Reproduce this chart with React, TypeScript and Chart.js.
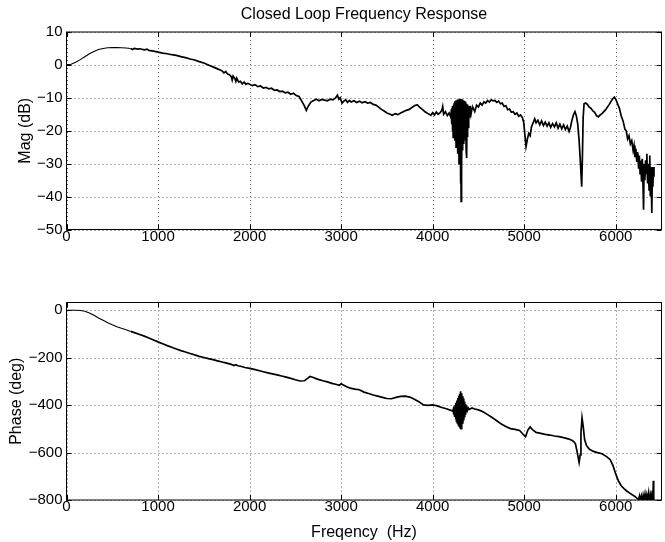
import React, { useEffect, useRef } from 'react';
import { Chart, registerables } from 'chart.js';

Chart.register(...registerables);

// ---------------- data ----------------
const magFreq = [
  0, 50, 100, 150, 200, 250, 300, 350, 400, 450, 500, 550, 600, 650, 700, 720, 740, 780, 800, 850, 880, 900, 950,
  1000, 1050, 1100, 1150, 1200, 1250, 1300, 1350, 1400, 1450, 1500, 1550, 1600, 1650, 1700, 1720, 1740, 1760, 1780,
  1800, 1810, 1820, 1840, 1850, 1860, 1880, 1900, 1920, 1940, 1960, 1980, 2000, 2030, 2060, 2090, 2120, 2150, 2180,
  2210, 2240, 2270, 2300, 2330, 2360, 2390, 2420, 2450, 2480, 2510, 2540, 2570, 2600, 2620, 2640, 2670, 2700, 2730,
  2760, 2790, 2820, 2850, 2880, 2910, 2940, 2960, 2975, 2990, 3010, 3030, 3050, 3070, 3090, 3110, 3140, 3170, 3200,
  3230, 3260, 3290, 3320, 3350, 3380, 3410, 3440, 3470, 3500, 3530, 3560, 3590, 3620, 3650, 3680, 3710, 3740, 3770,
  3800, 3830, 3860, 3890, 3920, 3950, 3980, 4000, 4020, 4040, 4060, 4080, 4100, 4110, 4120, 4140, 4160, 4180,
  4200, 4204, 4208, 4212, 4216, 4220, 4224, 4228, 4232, 4236, 4240, 4244, 4248, 4252, 4256, 4260, 4264, 4268,
  4272, 4276, 4280, 4284, 4288, 4292, 4296, 4300, 4304, 4308, 4311, 4314, 4318, 4322, 4326, 4330, 4334, 4338,
  4342, 4346, 4350, 4354, 4358, 4362, 4366, 4370, 4373, 4376, 4380, 4384, 4388, 4392, 4396, 4400, 4404, 4408,
  4412, 4416, 4420, 4430, 4440, 4460, 4480, 4500, 4520, 4540, 4560, 4580, 4600, 4620, 4640, 4660,
  4680, 4700, 4720, 4740, 4760, 4780, 4800, 4820, 4840, 4860, 4880, 4900, 4920, 4940, 4960, 4980, 4995, 5010, 5020,
  5035, 5050, 5065, 5080, 5100, 5115, 5130, 5150, 5170, 5190, 5210, 5230, 5250, 5270, 5290, 5310, 5330, 5350, 5370,
  5390, 5410, 5430, 5450, 5470, 5490, 5505, 5520, 5540, 5555, 5570, 5585, 5600, 5615, 5628, 5636, 5644, 5654, 5670,
  5690, 5710, 5730, 5750, 5770, 5790, 5810, 5830, 5850, 5870, 5890, 5910, 5930, 5950, 5970, 5985, 6000, 6020, 6040,
  6060, 6080, 6100, 6115, 6130, 6145, 6160, 6175, 6190, 6200, 6210, 6220, 6230, 6240, 6250, 6258, 6266, 6274, 6282,
  6290, 6298, 6304, 6310, 6318, 6326, 6334, 6340, 6348, 6356, 6364, 6372, 6378, 6386, 6394, 6400, 6406, 6412, 6418,
];
const magDb = [
  0, 0.2, 0.8, 1.6, 2.5, 3.4, 4.1, 4.7, 5.0, 5.2, 5.25, 5.25, 5.2, 5.15, 5.0, 4.7, 5.0, 4.8, 4.9, 4.6, 4.8, 4.4, 4.2,
  3.9, 3.6, 3.4, 3.1, 2.9, 2.5, 2.2, 1.8, 1.5, 1.0, 0.6, 0.0, -0.6, -1.2, -1.8, -2.4, -2.0, -2.8, -3.0,
  -3.6, -4.6, -3.4, -4.2, -5.0, -4.0, -5.2, -5.0, -5.8, -5.2, -5.9, -5.6, -5.9, -6.3, -6.0, -6.6, -6.4, -7.0, -6.8,
  -7.3, -7.1, -7.7, -7.6, -8.1, -8.0, -8.5, -8.3, -8.9, -8.6, -9.3, -9.6, -11.0, -12.5, -13.8, -12.6, -11.3, -10.8, -10.4,
  -10.9, -10.5, -10.7, -10.9, -10.4, -10.6, -10.0, -9.2, -10.4, -10.0, -11.6, -11.0, -10.6, -11.4, -10.8, -11.3, -10.9, -11.4, -11.0,
  -11.5, -11.2, -11.6, -11.4, -12.0, -12.2, -12.8, -13.5, -14.0, -14.6, -14.9, -15.3, -14.8, -15.1, -14.6, -14.2, -13.8, -13.6, -13.0,
  -12.4, -12.1, -12.9, -13.6, -14.3, -14.8, -15.3, -14.5, -15.2, -14.3, -15.0, -14.6, -13.8, -12.6, -15.0, -14.2, -15.4, -14.6,
  -16.0, -13.5, -18.0, -13.0, -20.0, -12.5, -22.0, -12.0, -19.0, -11.5, -23.0, -11.0, -21.0, -10.8, -25.0, -11.0, -20.0, -10.6,
  -27.0, -10.5, -22.0, -10.4, -30.0, -10.5, -24.0, -10.3, -36.0, -10.5, -41.5, -10.4, -32.0, -10.5, -26.0, -10.6, -22.0, -10.8,
  -24.0, -11.0, -20.0, -11.2, -23.0, -11.5, -26.0, -11.8, -28.3, -12.0, -22.0, -12.2, -19.0, -12.5, -17.0, -12.6, -16.0, -12.4,
  -15.5, -12.8, -14.8, -13.2, -13.0, -14.2, -12.2, -12.8, -11.6, -12.2, -11.2, -11.6, -10.8, -11.3, -10.6, -10.9,
  -10.8, -11.4, -11.0, -11.8, -11.6, -12.6, -12.4, -13.6, -13.4, -14.4, -14.2, -15.0, -14.6, -15.6, -15.2, -16.0, -17.5, -22.0, -24.8,
  -22.5, -20.8, -21.5, -18.8, -17.4, -16.4, -17.6, -16.8, -18.2, -17.0, -18.4, -17.4, -18.6, -17.6, -19.0, -17.8, -18.8, -17.6, -19.2,
  -18.0, -19.4, -18.2, -19.6, -18.6, -20.2, -19.0, -17.0, -15.0, -14.2, -15.5, -18.0, -23.0, -30.0, -37.0, -28.0, -16.0, -11.8, -11.6,
  -12.0, -12.8, -13.2, -14.0, -14.4, -15.4, -15.8, -15.2, -14.8, -14.2, -13.6, -12.8, -12.0, -11.0, -10.2, -9.8, -10.4, -11.8, -13.2,
  -15.5, -17.0, -19.5, -20.0, -22.5, -21.5, -24.0, -23.0, -26.0, -24.5, -28.0, -25.5, -29.5, -26.5, -31.5, -27.5, -33.0, -29.0, -35.5,
  -28.5, -36.5, -44.0, -30.0, -35.0, -29.0, -33.0, -27.0, -36.0, -30.0, -38.0, -27.5, -40.0, -31.0, -45.0, -33.0, -37.0, -31.0, -34.0,
];

const phaseFreq = [
  0, 100, 150, 200, 250, 300, 350, 400, 450, 500, 550, 600, 650, 700, 750, 800, 850, 900, 950, 1000, 1050, 1100, 1150,
  1200, 1250, 1300, 1350, 1400, 1450, 1500, 1550, 1600, 1650, 1700, 1750, 1800, 1830, 1850, 1870, 1900, 1950, 2000,
  2050, 2100, 2150, 2200, 2250, 2300, 2350, 2400, 2450, 2500, 2550, 2600, 2630, 2660, 2690, 2720, 2750, 2800, 2850,
  2900, 2950, 2980, 3000, 3020, 3060, 3100, 3150, 3200, 3250, 3300, 3350, 3400, 3450, 3500, 3550, 3600, 3650, 3700,
  3750, 3800, 3850, 3900, 3950, 4000, 4050, 4100, 4150, 4200,
  4220, 4225, 4230, 4235, 4240, 4245, 4250, 4255, 4260, 4265, 4270, 4275, 4280, 4285, 4290, 4295, 4300, 4305,
  4310, 4315, 4320, 4325, 4330, 4335, 4340, 4345, 4350, 4355, 4360, 4365, 4370, 4375, 4380, 4390, 4400,
  4430, 4460, 4500, 4550, 4600, 4650, 4700, 4750, 4800,
  4850, 4900, 4950, 5000, 5015, 5040, 5065, 5090, 5130, 5180, 5230, 5280, 5330, 5380, 5430, 5480, 5520, 5545, 5560,
  5580, 5600, 5612, 5620, 5632, 5645, 5660, 5680, 5710, 5750, 5800, 5850, 5900, 5940, 5970, 6000, 6030, 6060, 6090,
  6120, 6150, 6180, 6210, 6230, 6250, 6260, 6270, 6280, 6290, 6300, 6310, 6320, 6330, 6340, 6350, 6360, 6370, 6380,
  6390, 6400, 6405, 6411, 6415,
];
const phaseDeg = [
  0, 0, -1, -4, -11, -21, -32, -42, -52, -61, -69, -76, -82, -89, -95, -102, -109, -117, -125, -133, -141, -149, -156,
  -163, -170, -176, -182, -188, -194, -199, -204, -208, -213, -218, -223, -228, -233, -229, -234, -236, -241, -245,
  -249, -254, -259, -264, -268, -272, -277, -282, -287, -293, -298, -297, -288, -279, -282, -287, -291, -297, -302,
  -308, -313, -316, -310, -314, -322, -328, -332, -335, -345, -351, -357, -362, -367, -372, -373, -367, -363, -362,
  -366, -375, -386, -399, -401, -399, -403, -410, -415, -422,
  -425, -418, -440, -410, -450, -400, -460, -390, -468, -380, -475, -370, -482, -360, -488, -352, -495, -341,
  -499, -350, -490, -362, -478, -372, -465, -385, -452, -395, -440, -402, -430, -408, -422, -412, -418,
  -412, -416, -420, -428, -440, -452, -466, -480, -490,
  -499, -502, -507, -528, -533, -505, -492, -503, -515, -519, -523, -526, -530, -533, -537, -542, -548, -555, -563,
  -600, -642, -610, -520, -453, -490, -545, -570, -585, -594, -600, -605, -617, -630, -655, -690, -720, -740, -752,
  -762, -770, -778, -785, -792, -797, -782, -805, -785, -810, -780, -800, -775, -805, -778, -800, -770, -805, -780,
  -810, -760, -800, -719, -805,
];

const xTicks = [0, 1000, 2000, 3000, 4000, 5000, 6000];
const magTicks = [-50, -40, -30, -20, -10, 0, 10];
const phaseTicks = [-800, -600, -400, -200, 0];
const xRange = [0, 6500];
const magRange = [-50, 10];
const phaseRange = [-800, 33];

const FONT = "'Liberation Sans', Arial, Helvetica, sans-serif";
const fmt = (v: number) => String(v).replace('-', '\u2212');

const matlabPlugin = {
  id: 'matlabFrame',
  beforeDatasetsDraw(chart: any) {
    const { ctx, chartArea: a, scales } = chart;
    ctx.save();
    ctx.strokeStyle = '#666';
    ctx.lineWidth = 1;
    ctx.setLineDash([1, 3]);
    ctx.beginPath();
    scales.x.ticks.forEach((t: any) => {
      const px = Math.round(scales.x.getPixelForValue(t.value)) + 0.5;
      ctx.moveTo(px, a.top);
      ctx.lineTo(px, a.bottom);
    });
    scales.y.ticks.forEach((t: any) => {
      const py = Math.round(scales.y.getPixelForValue(t.value)) + 0.5;
      ctx.moveTo(a.left, py);
      ctx.lineTo(a.right, py);
    });
    ctx.stroke();
    ctx.restore();
  },
  afterDraw(chart: any) {
    const { ctx, chartArea: a, scales } = chart;
    const o = chart.options.plugins.matlabFrame || {};
    ctx.save();
    ctx.strokeStyle = '#000';
    ctx.lineWidth = 1;
    ctx.setLineDash([]);
    ctx.strokeRect(a.left, a.top, a.right - a.left, a.bottom - a.top);
    const tl = 5;
    ctx.beginPath();
    scales.x.ticks.forEach((t: any) => {
      const px = Math.round(scales.x.getPixelForValue(t.value)) + 0.5;
      ctx.moveTo(px, a.bottom);
      ctx.lineTo(px, a.bottom - tl);
      ctx.moveTo(px, a.top);
      ctx.lineTo(px, a.top + tl);
    });
    scales.y.ticks.forEach((t: any) => {
      const py = Math.round(scales.y.getPixelForValue(t.value)) + 0.5;
      ctx.moveTo(a.left, py);
      ctx.lineTo(a.left + tl, py);
      ctx.moveTo(a.right, py);
      ctx.lineTo(a.right - tl, py);
    });
    ctx.stroke();

    ctx.fillStyle = '#000';
    ctx.font = `16px ${FONT}`;
    const cx = (a.left + a.right) / 2;
    const cy = (a.top + a.bottom) / 2;
    ctx.textAlign = 'center';
    ctx.textBaseline = 'alphabetic';
    if (o.title) ctx.fillText(o.title, cx, o.titleY);
    if (o.xLabel) ctx.fillText(o.xLabel, cx, o.xLabelY);
    if (o.yLabel) {
      ctx.save();
      ctx.translate(o.yLabelX, cy);
      ctx.rotate(-Math.PI / 2);
      ctx.fillText(o.yLabel, 0, 0);
      ctx.restore();
    }
    ctx.restore();
  },
};

type PlotProps = {
  xs: number[];
  ys: number[];
  yTicks: number[];
  yRange: number[];
  top: number;
  height: number;
  padTop: number;
  xAxisH: number;
  frame: any;
};

function Plot({ xs, ys, yTicks, yRange, top, height, padTop, xAxisH, frame }: PlotProps) {
  const ref = useRef<HTMLCanvasElement>(null);
  useEffect(() => {
    const canvas = ref.current!;
    const data = xs.map((x, i) => ({ x, y: ys[i] }));
    const chart = new Chart(canvas, {
      type: 'line',
      data: {
        datasets: [
          {
            data,
            borderColor: '#000',
            borderWidth: 1.7,
            pointRadius: 0,
            tension: 0,
            fill: false,
            segment: {
              borderWidth: (c: any) => (c.p0.parsed.x < 700 ? 1.1 : 1.7),
            },
          },
        ],
      },
      options: {
        animation: false,
        responsive: false,
        devicePixelRatio: 1,
        layout: { padding: { top: padTop, left: 0, right: 3.5, bottom: 0 } },
        plugins: {
          legend: { display: false },
          tooltip: { enabled: false },
          title: { display: false },
          matlabFrame: frame,
        } as any,
        scales: {
          x: {
            type: 'linear',
            min: xRange[0],
            max: xRange[1],
            afterBuildTicks: (s: any) => {
              s.ticks = xTicks.map((v) => ({ value: v }));
            },
            afterFit: (s: any) => {
              s.height = xAxisH;
            },
            ticks: {
              autoSkip: false,
              maxRotation: 0,
              padding: -2,
              color: '#000',
              font: { family: FONT, size: 15 },
              callback: (v: any) => fmt(Number(v)),
            },
            grid: { display: false, drawTicks: false },
            border: { display: false },
          },
          y: {
            type: 'linear',
            min: yRange[0],
            max: yRange[1],
            afterBuildTicks: (s: any) => {
              s.ticks = yTicks.map((v) => ({ value: v }));
            },
            afterFit: (s: any) => {
              s.width = 66.5;
            },
            ticks: {
              autoSkip: false,
              padding: 4,
              color: '#000',
              font: { family: FONT, size: 15 },
              callback: (v: any) => fmt(Number(v)),
            },
            grid: { display: false, drawTicks: false },
            border: { display: false },
          },
        },
      } as any,
      plugins: [matlabPlugin],
    });
    return () => chart.destroy();
  }, []);
  return (
    <canvas
      ref={ref}
      width={665}
      height={height}
      style={{ position: 'absolute', left: 0, top, width: 665, height }}
    />
  );
}

export default function App() {
  return (
    <div style={{ position: 'fixed', left: 0, top: 0, width: 665, height: 542, background: '#fff' }}>
      <Plot
        xs={magFreq}
        ys={magDb}
        yTicks={magTicks}
        yRange={magRange}
        top={0}
        height={271}
        padTop={32}
        xAxisH={41.5}
        frame={{ title: 'Closed Loop Frequency Response', titleY: 19, yLabel: 'Mag (dB)', yLabelX: 30 }}
      />
      <Plot
        xs={phaseFreq}
        ys={phaseDeg}
        yTicks={phaseTicks}
        yRange={phaseRange}
        top={271}
        height={271}
        padTop={31.5}
        xAxisH={42}
        frame={{ xLabel: 'Freqency  (Hz)', xLabelY: 266, yLabel: 'Phase (deg)', yLabelX: 20.5 }}
      />
    </div>
  );
}
